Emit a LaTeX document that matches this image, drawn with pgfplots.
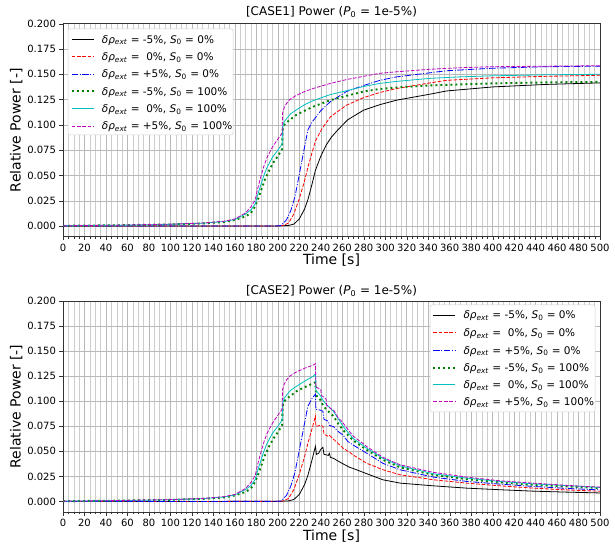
\documentclass[border=0pt]{standalone}
\usepackage{pgfplots}
\pgfplotsset{compat=1.18}
\usepackage{fontspec}
\setmainfont{DejaVu Sans}

\definecolor{mplgreen}{rgb}{0,0.5,0}
\definecolor{mplcyan}{rgb}{0,0.75,0.75}
\definecolor{mplmag}{rgb}{0.75,0,0.75}
\definecolor{gridc}{gray}{0.72}
\definecolor{gridm}{gray}{0.80}

\newcommand{\dr}{\textit{δρ}\textsubscript{\textit{ext}}}
\newcommand{\Sz}{\textit{S}\textsubscript{0}}

% line styles of the six runs
\tikzset{
  lk/.style={draw=black, line width=0.8pt, solid},
  lr/.style={draw=red, line width=0.8pt, dash pattern=on 3.7pt off 1.6pt},
  lb/.style={draw=blue, line width=0.8pt, dash pattern=on 6.4pt off 1.6pt on 1pt off 1.6pt},
  lg/.style={draw=mplgreen, line width=1.9pt, dash pattern=on 1.9pt off 3.1pt},
  lc/.style={draw=mplcyan, line width=0.8pt, solid},
  lm/.style={draw=mplmag, line width=0.8pt, dash pattern=on 3.7pt off 1.6pt},
}

% legend pieces: sample line at (x,y); text 30pt to the right of x
\newcommand{\legline}[3]{\draw[#3] (#1pt,#2pt) -- ++(22pt,0pt);}
\newcommand{\legtext}[3]{\path (#1pt,#2pt) ++(30pt,-3.8pt) node[anchor=base west, inner sep=0pt, text=black, font=\fontsize{10.5}{12.5}\selectfont] {#3};}

\pgfplotsset{
  pw/.style={
    scale only axis,
    width=537pt,
    xmin=0, xmax=500,
    ymin=-0.0105, ymax=0.2,
    xtick={0,20,...,500},
    minor x tick num=3,
    ytick={0,0.025,...,0.2},
    grid=both,
    major grid style={gridc, line width=0.5pt},
    minor grid style={gridm, line width=0.4pt},
    tick align=outside,
    tick pos=left,
    major tick length=3.5pt,
    minor tick length=2pt,
    axis line style={black!80, line width=0.6pt},
    tick style={black!80},
    /pgf/number format/assume math mode=true,
    ticklabel style={font=\fontsize{10}{12}\selectfont},
    yticklabel style={/pgf/number format/.cd, fixed, fixed zerofill, precision=3},
    xticklabel style={/pgf/number format/.cd, fixed, precision=0},
    xlabel={Time [s]},
    ylabel={Relative Power [-]},
    label style={font=\fontsize{14}{16}\selectfont},
    xlabel style={yshift=4pt},
    ylabel style={yshift=-2pt},
    title style={font=\fontsize{12}{14}\selectfont, yshift=-3pt},
  },
}

\begin{document}
\begin{tikzpicture}
\path[use as bounding box] (0,0) rectangle (615pt,546pt);

% ---------------- CASE 1 ----------------
\begin{axis}[pw, height=213pt, at={(63pt,309.3pt)}, anchor=south west,
  title={[CASE1] Power (\textit{P}\textsubscript{0} = 1e-5\%)}]
\addplot[lk] coordinates {(0,0) (200,0.0001) (210,0.0006) (215,0.002) (220,0.007) (225,0.017) (228,0.026) (232,0.042) (235,0.055) (240,0.069) (245,0.080) (250,0.088) (255,0.094) (265,0.105) (280,0.1146) (295,0.120) (311,0.1245) (342,0.1304) (357,0.1335) (400,0.1375) (450,0.140) (500,0.1415)};
\addplot[lr] coordinates {(0,0) (200,0.0001) (205,0.0005) (210,0.003) (215,0.012) (220,0.027) (225,0.045) (228,0.058) (232,0.073) (235,0.084) (241,0.096) (249,0.108) (264,0.1195) (280,0.127) (295,0.132) (311,0.136) (342,0.1415) (357,0.1440) (400,0.1465) (450,0.148) (500,0.149)};
\addplot[lb] coordinates {(0,0) (198,0.0001) (203,0.0005) (208,0.006) (212,0.015) (216,0.029) (222,0.062) (228,0.095) (232,0.103) (235,0.107) (240,0.114) (249,0.123) (264,0.133) (280,0.139) (295,0.1440) (311,0.1475) (342,0.1515) (357,0.1535) (400,0.156) (450,0.1575) (500,0.158)};
\addplot[lg] coordinates {(0,0.0003) (50,0.0008) (100,0.0016) (130,0.0026) (150,0.004) (160,0.006) (170,0.0095) (175,0.013) (178,0.018) (181,0.025) (184,0.034) (188,0.046) (192,0.055) (196,0.063) (200,0.069) (204,0.076) (204.5,0.095) (206,0.100) (210,0.104) (217.5,0.110) (225,0.114) (233,0.118) (249,0.1245) (265,0.129) (280,0.133) (295,0.1355) (311,0.137) (342,0.139) (370,0.140) (400,0.141) (450,0.142) (500,0.1425)};
\addplot[lc] coordinates {(0,0.0003) (50,0.0008) (100,0.0017) (130,0.0028) (150,0.0045) (160,0.0065) (170,0.012) (175,0.016) (179,0.022) (181,0.030) (184,0.040) (187,0.050) (190,0.058) (195,0.068) (200,0.075) (204,0.081) (204.5,0.098) (206,0.103) (208,0.106) (212,0.111) (217.5,0.115) (225,0.120) (233,0.124) (249,0.130) (265,0.134) (280,0.138) (295,0.141) (311,0.143) (342,0.146) (370,0.1475) (400,0.1485) (450,0.1495) (500,0.150)};
\addplot[lm] coordinates {(0,0.0003) (50,0.0009) (100,0.0019) (130,0.003) (150,0.0048) (160,0.007) (170,0.013) (175,0.019) (179,0.026) (181,0.036) (184,0.048) (187,0.059) (190,0.068) (195,0.078) (200,0.086) (204,0.092) (204.5,0.112) (206,0.117) (208,0.121) (211,0.125) (217,0.129) (225,0.133) (233,0.136) (249,0.141) (265,0.145) (280,0.148) (295,0.151) (311,0.1525) (342,0.155) (370,0.1565) (400,0.1575) (450,0.158) (500,0.1585)};
\end{axis}

% ---------------- CASE 2 ----------------
\begin{axis}[pw, height=211pt, at={(63pt,34pt)}, anchor=south west,
  title={[CASE2] Power (\textit{P}\textsubscript{0} = 1e-5\%)},
  title style={yshift=-2pt}]
\addplot[lk] coordinates {(0,0) (200,0.0001) (210,0.0006) (215,0.002) (220,0.007) (225,0.017) (228,0.026) (232,0.042) (235,0.055) (236,0.047) (238,0.048) (240,0.052) (242,0.054) (243,0.047) (247,0.046) (248,0.048) (249,0.044) (252,0.043) (255,0.041) (260,0.038) (267,0.034) (270,0.033) (283,0.0276) (298,0.0216) (314,0.0183) (345,0.0156) (376,0.0133) (407,0.0117) (438,0.0103) (470,0.0093) (500,0.0085)};
\addplot[lr] coordinates {(0,0) (200,0.0001) (205,0.0005) (210,0.003) (215,0.012) (220,0.027) (225,0.045) (228,0.058) (232,0.073) (235,0.085) (235.5,0.075) (240,0.076) (242,0.075) (243,0.067) (247,0.065) (248,0.066) (252,0.062) (256,0.058) (261,0.053) (267,0.049) (270,0.0465) (283,0.038) (298,0.0316) (314,0.0266) (345,0.0216) (376,0.0183) (407,0.0156) (438,0.0133) (470,0.0115) (500,0.0102)};
\addplot[lb] coordinates {(0,0) (198,0.0001) (203,0.0005) (208,0.006) (212,0.015) (216,0.029) (222,0.062) (228,0.095) (232,0.103) (235,0.107) (235.5,0.092) (240,0.091) (242,0.090) (243,0.082) (247,0.080) (248,0.076) (252,0.0745) (256,0.070) (261,0.066) (265,0.060) (270,0.0564) (283,0.048) (298,0.038) (314,0.0316) (345,0.0243) (376,0.020) (407,0.0173) (438,0.015) (470,0.013) (500,0.0115)};
\addplot[lg] coordinates {(0,0.0003) (50,0.0008) (100,0.0016) (130,0.0026) (150,0.004) (160,0.006) (170,0.0095) (175,0.013) (178,0.018) (181,0.025) (184,0.034) (188,0.046) (192,0.055) (196,0.063) (200,0.069) (204,0.076) (204.5,0.095) (206,0.100) (210,0.104) (217.5,0.110) (225,0.114) (233,0.118) (235,0.119) (235.5,0.106) (240,0.101) (242,0.096) (245,0.092) (250,0.087) (252,0.085) (256,0.078) (261,0.071) (270,0.061) (283,0.0514) (298,0.0415) (314,0.034) (345,0.0266) (376,0.0223) (407,0.019) (438,0.0166) (470,0.015) (500,0.0133)};
\addplot[lc] coordinates {(0,0.0003) (50,0.0008) (100,0.0017) (130,0.0028) (150,0.0045) (160,0.0065) (170,0.012) (175,0.016) (179,0.022) (181,0.030) (184,0.040) (187,0.050) (190,0.058) (195,0.068) (200,0.075) (204,0.081) (204.5,0.098) (206,0.103) (208,0.106) (212,0.111) (217.5,0.115) (225,0.120) (233,0.125) (235,0.127) (235.5,0.111) (240,0.105) (242,0.101) (245,0.097) (250,0.092) (252,0.0896) (256,0.083) (261,0.0746) (270,0.063) (283,0.053) (298,0.043) (314,0.0355) (345,0.0276) (376,0.0233) (407,0.020) (438,0.0176) (470,0.0158) (500,0.014)};
\addplot[lm] coordinates {(0,0.0003) (50,0.0009) (100,0.0019) (130,0.003) (150,0.0048) (160,0.007) (170,0.013) (175,0.019) (179,0.026) (181,0.036) (184,0.048) (187,0.059) (190,0.068) (195,0.078) (200,0.086) (204,0.092) (204.5,0.112) (206,0.117) (208,0.121) (211,0.125) (217,0.129) (225,0.133) (233,0.136) (235,0.1375) (235.5,0.114) (240,0.112) (240.5,0.106) (245,0.102) (245.5,0.096) (250,0.092) (252,0.091) (256,0.084) (261,0.078) (270,0.0654) (283,0.0547) (298,0.044) (314,0.0365) (345,0.029) (376,0.0243) (407,0.0206) (438,0.0183) (470,0.016) (500,0.0143)};
\end{axis}

% ---------------- legends: boxes, then sample lines, then texts ----------------
\filldraw[fill=white, draw=gray!35, line width=0.5pt, rounded corners=2pt] (68pt,517pt) rectangle (233pt,411pt);
\filldraw[fill=white, draw=gray!35, line width=0.5pt, rounded corners=2pt] (430pt,241pt) rectangle (595pt,134pt);

\legline{71.7}{506.7}{lk}
\legline{71.7}{489.3}{lr}
\legline{71.7}{472.0}{lb}
\legline{71.7}{454.7}{lg}
\legline{71.7}{437.3}{lc}
\legline{71.7}{420.0}{lm}
\legline{433.3}{231.0}{lk}
\legline{433.3}{213.3}{lr}
\legline{433.3}{195.7}{lb}
\legline{433.3}{178.0}{lg}
\legline{433.3}{161.3}{lc}
\legline{433.3}{144.3}{lm}

\legtext{71.7}{506.7}{\dr{} = -5\%, \Sz{} = 0\%}
\legtext{71.7}{489.3}{\dr{} =\ \ 0\%, \Sz{} = 0\%}
\legtext{71.7}{472.0}{\dr{} = +5\%, \Sz{} = 0\%}
\legtext{71.7}{454.7}{\dr{} = -5\%, \Sz{} = 100\%}
\legtext{71.7}{437.3}{\dr{} =\ \ 0\%, \Sz{} = 100\%}
\legtext{71.7}{420.0}{\dr{} = +5\%, \Sz{} = 100\%}
\legtext{433.3}{231.0}{\dr{} = -5\%, \Sz{} = 0\%}
\legtext{433.3}{213.3}{\dr{} =\ \ 0\%, \Sz{} = 0\%}
\legtext{433.3}{195.7}{\dr{} = +5\%, \Sz{} = 0\%}
\legtext{433.3}{178.0}{\dr{} = -5\%, \Sz{} = 100\%}
\legtext{433.3}{161.3}{\dr{} =\ \ 0\%, \Sz{} = 100\%}
\legtext{433.3}{144.3}{\dr{} = +5\%, \Sz{} = 100\%}
\end{tikzpicture}
\end{document}
